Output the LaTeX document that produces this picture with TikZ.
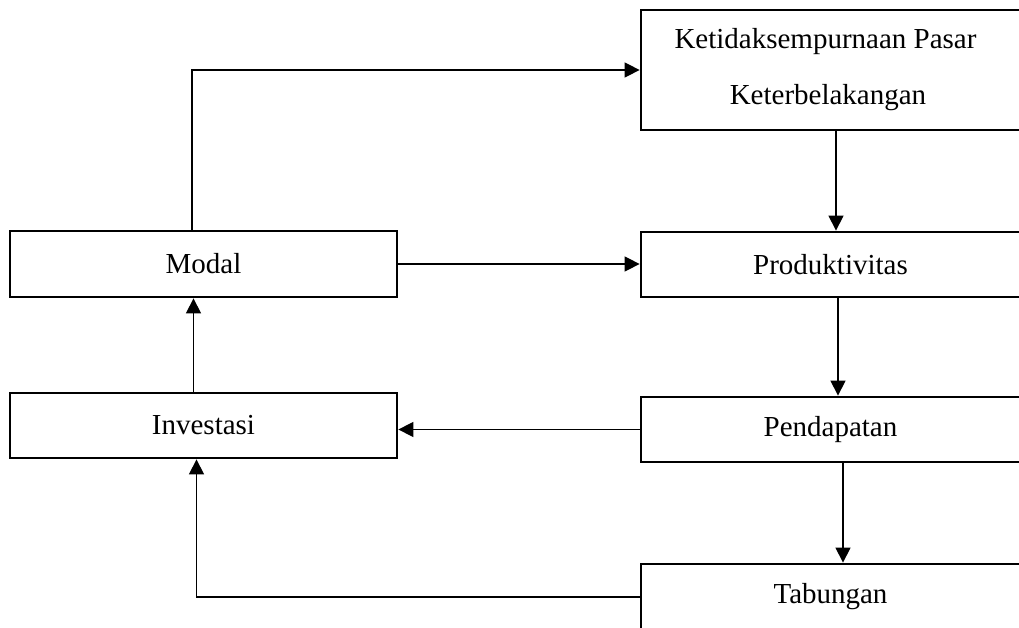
\documentclass[tikz,border=0pt]{standalone}
\usepackage{fontspec}
\setmainfont{Liberation Serif}
\usetikzlibrary{arrows.meta,calc}

\begin{document}
\begin{tikzpicture}[x=0.02cm, y=-0.02cm,
        kotak/.style={draw, line width=1.6pt, rectangle, inner sep=0pt,
            font=\fontsize{16.5}{20}\selectfont},
        panah/.style={line width=0.7pt, -{Triangle[length=8.5pt,width=8.5pt]}}
    ]
    \useasboundingbox (0,0) rectangle (1019,628);
    \clip (0,0) rectangle (1019,628);
    % kolom kiri
    \node [kotak, minimum width=7.74cm, minimum height=1.32cm] (modal) at (203.5,264) {Modal};
    \node [kotak, minimum width=7.74cm, minimum height=1.3cm] (invest) at (203.5,425.5) {Investasi};
    % kolom kanan
    \node [kotak, minimum width=7.68cm, minimum height=2.4cm, align=center] (pasar) at (833,70)
        {Ketidaksempurnaan Pasar\hspace*{0.3cm}\\[11.8pt]Keterbelakangan\hspace*{0.2cm}};
    \node [kotak, minimum width=7.68cm, minimum height=1.3cm] (prod) at (833,264.5) {Produktivitas\hspace*{0.1cm}};
    \node [kotak, minimum width=7.68cm, minimum height=1.3cm] (pend) at (833,429.5) {Pendapatan\hspace*{0.1cm}};
    \node [kotak, minimum width=7.68cm, minimum height=1.32cm] (tab) at (833,597) {Tabungan\hspace*{0.1cm}};
    % panah
    \coordinate (belok) at (192,70);
    \draw [panah] (modal.north -| belok) |- (pasar.west);
    \draw [panah] ($(pasar.south)+(3,0)$) -- ($(prod.north)+(3,0)$);
    \draw [panah] (modal.east) -- (modal.east -| prod.west);
    \draw [panah] ($(prod.south)+(5,0)$) -- ($(pend.north)+(5,0)$);
    \draw [panah] (pend.west) -- (pend.west -| invest.east);
    \draw [panah] ($(pend.south)+(10,0)$) -- ($(tab.north)+(10,0)$);
    \draw [panah] (tab.west) -| ($(invest.south)+(-7,0)$);
    \draw [panah] ($(invest.north)+(-10,0)$) -- ($(modal.south)+(-10,0)$);
\end{tikzpicture}
\end{document}
